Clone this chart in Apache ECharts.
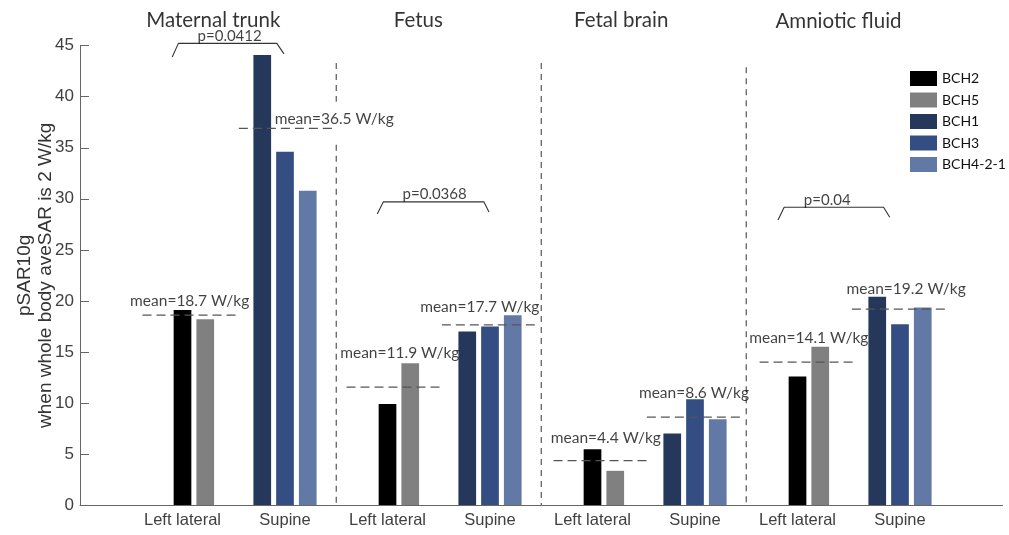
<!DOCTYPE html>
<html><head><meta charset="utf-8">
<script src="https://cdn.jsdelivr.net/npm/echarts@6/dist/echarts.min.js"></script>
<style>html,body{margin:0;padding:0;background:#fff}#c{width:1009px;height:535px}</style>
</head><body><div id="c"></div>
<script>
// ---- data ----
const categories = ['', 'Left lateral', 'Supine', 'Left lateral', 'Supine', 'Left lateral', 'Supine', 'Left lateral', 'Supine', ''];
const tissues = ['Maternal trunk', 'Fetus', 'Fetal brain', 'Amniotic fluid'];
const legendNames = ['BCH2', 'BCH5', 'BCH1', 'BCH3', 'BCH4-2-1'];
// Left lateral subjects (per tissue)
const bch2 = [19.1, 9.9, 5.45, 12.6];
const bch5 = [18.2, 13.9, 3.35, 15.5];
// Supine subjects (per tissue)
const bch1 = [44.1, 17.0, 7.0, 20.4];
const bch3 = [34.6, 17.5, 10.35, 17.7];
const bch4 = [30.8, 18.6, 8.4, 19.35];
// mean annotations (per position)
const meanLabels = ['mean=18.7 W/kg', 'mean=36.5 W/kg', 'mean=11.9 W/kg', 'mean=17.7 W/kg', 'mean=4.4 W/kg', 'mean=8.6 W/kg', 'mean=14.1 W/kg', 'mean=19.2 W/kg'];
const meanLineValues = [18.6, 36.9, 11.55, 17.65, 4.35, 8.6, 14.0, 19.2];
const pValues = ['p=0.0412', 'p=0.0368', 'p=0.04'];

// ---- annotation geometry (data coordinates on the 0..9 position axis) ----
const meanSpans = [[0.61, 1.53], [1.55, 2.5], [2.6, 3.53], [3.53, 4.47], [4.62, 5.56], [5.53, 6.48], [6.63, 7.56], [7.53, 8.46]];
const meanLabelPos = [[1.07, 19.95], [2.48, 37.8], [3.12, 14.9], [3.9, 19.4], [5.13, 6.56], [5.99, 11.0], [7.11, 16.33], [8.06, 21.13]];
const titlePos = [[1.30, 47.5], [3.30, 47.5], [5.28, 47.5], [7.40, 47.35]];
const pLabelPos = [[1.46, 45.9], [3.46, 30.5], [7.29, 29.9]];
const brackets = [
  [[0.90, 43.9], [0.96, 45.23], [1.92, 45.23], [1.99, 44.2]],
  [[2.90, 28.5], [2.96, 29.7], [3.94, 29.7], [3.99, 28.7]],
  [[6.81, 27.92], [6.87, 29.17], [7.84, 29.17], [7.90, 28.19]]
];
const separators = [
  [[2.5, 43.3], [2.5, 39.5]], [[2.5, 35.3], [2.5, 0]],
  [[4.5, 43.3], [4.5, 0]],
  [[6.5, 42.9], [6.5, 0]]
];

function llData(arr) { const d = categories.map(() => '-'); arr.forEach((v, t) => { d[1 + 2 * t] = v; }); return d; }
function supData(arr) { const d = categories.map(() => '-'); arr.forEach((v, t) => { d[2 + 2 * t] = v; }); return d; }

const ANN = 'Lato, "Open Sans", sans-serif';
const AX = '"Liberation Sans", Arial, sans-serif';

const barCommon = { type: 'bar', barWidth: 17.7, barGap: '28.5%', silent: true };
const series = [
  Object.assign({ name: 'BCH1', stack: 's1', data: supData(bch1), itemStyle: { color: '#26375c' } }, barCommon),
  Object.assign({ name: 'BCH2', stack: 's2', data: llData(bch2), itemStyle: { color: '#000000' } }, barCommon),
  Object.assign({ name: 'BCH3', stack: 's2', data: supData(bch3), itemStyle: { color: '#344d82' } }, barCommon),
  Object.assign({ name: 'BCH5', stack: 's3', data: llData(bch5), itemStyle: { color: '#808080' } }, barCommon),
  Object.assign({ name: 'BCH4-2-1', stack: 's3', data: supData(bch4), itemStyle: { color: '#6379a5' } }, barCommon)
];

meanSpans.forEach((s, i) => {
  series.push({ type: 'line', xAxisIndex: 1, silent: true, symbol: 'none', clip: false, z: 5,
    data: [[s[0], meanLineValues[i]], [s[1], meanLineValues[i]]],
    lineStyle: { color: '#555', width: 1.3, type: [9, 5] } });
});
separators.forEach(s => {
  series.push({ type: 'line', xAxisIndex: 1, silent: true, symbol: 'none', clip: false, z: 5,
    data: s, lineStyle: { color: '#555', width: 1.2, type: [6, 5] } });
});
brackets.forEach(b => {
  series.push({ type: 'line', xAxisIndex: 1, silent: true, symbol: 'none', clip: false, z: 5,
    data: b, lineStyle: { color: '#333', width: 1.1 } });
});

function textSeries(pos, texts, size, color) {
  return { type: 'scatter', xAxisIndex: 1, silent: true, clip: false, symbolSize: 1, z: 6,
    itemStyle: { color: 'rgba(0,0,0,0)' },
    data: pos.map((p, i) => ({ value: p, name: texts[i] })),
    label: { show: true, position: 'inside', formatter: '{b}', fontFamily: ANN, fontSize: size, color: color } };
}
series.push(textSeries(meanLabelPos, meanLabels, 15.5, '#111'));
series.push(textSeries(titlePos, tissues, 20.5, '#000'));
series.push(textSeries(pLabelPos, pValues, 15, '#111'));

const chart = echarts.init(document.getElementById('c'), null, { renderer: 'canvas' });
chart.setOption({
  animation: false,
  backgroundColor: '#fff',
  grid: { left: 80, right: 6.5, top: 45.7, bottom: 30, containLabel: false, outerBoundsMode: 'none' },
  legend: {
    data: legendNames, orient: 'vertical', left: 910, top: 71, padding: 0,
    itemWidth: 27, itemHeight: 15, itemGap: 6.5, icon: 'rect', selectedMode: false,
    textStyle: { fontFamily: ANN, fontSize: 14, color: '#111' }
  },
  xAxis: [
    { type: 'category', data: categories, boundaryGap: false,
      axisLine: { lineStyle: { color: '#666', width: 1 } },
      axisTick: { inside: true, length: 8, lineStyle: { color: '#666' },
        interval: (i) => i > 0 && i < categories.length - 1 },
      axisLabel: { fontFamily: AX, fontSize: 16.5, color: '#404040', margin: 7,
        interval: (i) => i > 0 && i < categories.length - 1 },
      splitLine: { show: false } },
    { type: 'value', min: 0, max: 9, show: false }
  ],
  yAxis: {
    type: 'value', min: 0, max: 45, interval: 5,
    name: 'pSAR10g\nwhen whole body aveSAR is 2 W/kg',
    nameLocation: 'middle', nameGap: 24, nameRotate: 90, nameMoveOverlap: false,
    nameTextStyle: { fontFamily: AX, fontSize: 19, lineHeight: 21, color: '#333' },
    axisLine: { show: true, lineStyle: { color: '#666', width: 1 } },
    axisTick: { show: true, inside: true, length: 9, lineStyle: { color: '#666' } },
    axisLabel: { fontFamily: AX, fontSize: 17, color: '#404040', margin: 6 },
    splitLine: { show: false }
  },
  series: series
});
</script>
</body></html>
